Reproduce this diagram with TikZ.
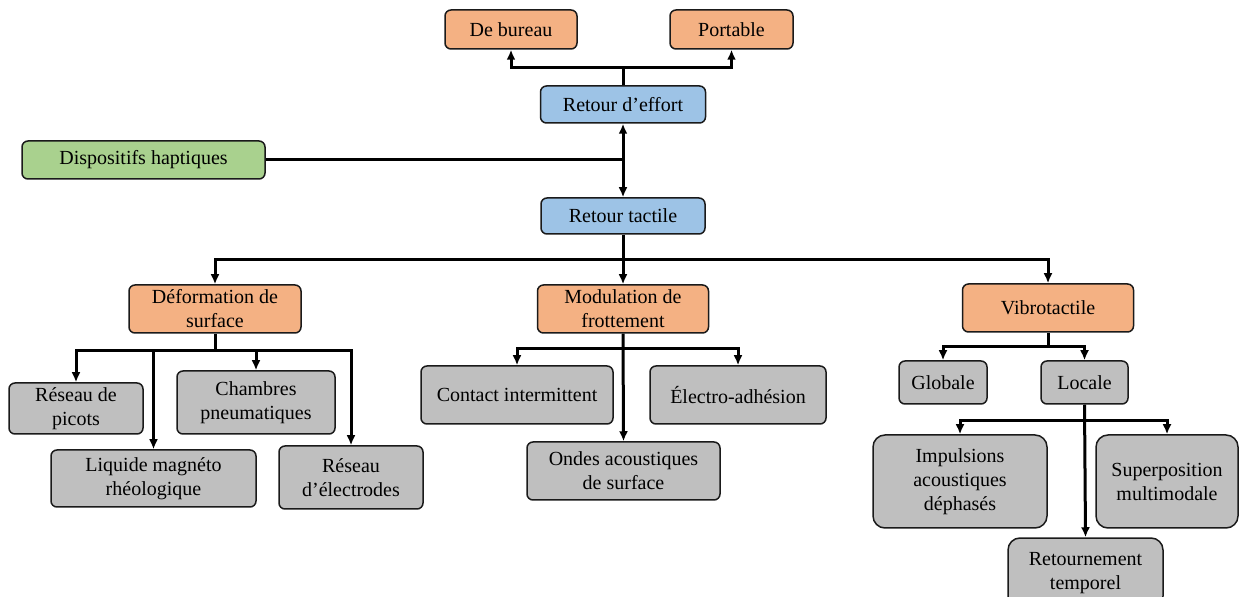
\documentclass[tikz,border=0pt]{standalone}
\usepackage{fontspec}
\setmainfont{Liberation Serif}
\usetikzlibrary{arrows.meta}
\definecolor{corange}{HTML}{F4B183}
\definecolor{cblue}{HTML}{9DC3E6}
\definecolor{cgreen}{HTML}{A9D18E}
\definecolor{cgray}{HTML}{BFBFBF}
\definecolor{cedge}{HTML}{1A1A1A}
\begin{document}
\begin{tikzpicture}[x=0.5pt,y=-0.5pt,
  box/.style={draw=cedge, line width=0.75pt, rounded corners=3pt, align=center,
    inner sep=0pt, font=\fontsize{10}{12}\selectfont},
  obox/.style={box, fill=corange},
  bbox/.style={box, fill=cblue},
  gbox/.style={box, fill=cgreen},
  ybox/.style={box, fill=cgray},
  wire/.style={draw=black, line width=1.5pt},
  arr/.style={wire, -{Latex[length=5pt,width=4.5pt]}},
  darr/.style={wire, {Latex[length=5pt,width=4.5pt]}-{Latex[length=5pt,width=4.5pt]}}
]
\useasboundingbox (0,0) rectangle (1240,597);

% nodes
\node[obox, minimum width=66pt, minimum height=19.5pt] (bur) at (511,29.5) {De bureau};
\node[obox, minimum width=61.5pt, minimum height=19.5pt] (por) at (731.5,29.5) {Portable};
\node[bbox, minimum width=82.5pt, minimum height=18.5pt] (eff) at (623,104.5) {Retour d'effort};
\node[gbox, minimum width=121.5pt, minimum height=19pt] (disp) at (143.5,160) {Dispositifs haptiques};
\node[bbox, minimum width=82pt, minimum height=18pt] (tac) at (623,216) {Retour tactile};

\node[obox, minimum width=86pt, minimum height=24pt] (def) at (215,309) {Déformation de\\surface};
\node[obox, minimum width=85.5pt, minimum height=24pt] (mod) at (623,309) {Modulation de\\frottement};
\node[obox, minimum width=85.5pt, minimum height=24pt] (vib) at (1048,308) {Vibrotactile};

\node[ybox, minimum width=67pt, minimum height=25.5pt] (pic) at (76,408.5) {Réseau de\\picots};
\node[ybox, minimum width=102.5pt, minimum height=28.5pt] (liq) at (153.5,478.5) {Liquide magnéto\\rhéologique};
\node[ybox, minimum width=79pt, minimum height=31.5pt] (cha) at (256,402.5) {Chambres\\pneumatiques};
\node[ybox, minimum width=72pt, minimum height=31.5pt] (ele) at (351,477.5) {Réseau\\d'électrodes};

\node[ybox, minimum width=96pt, minimum height=29pt] (con) at (517,395) {Contact intermittent};
\node[ybox, minimum width=88pt, minimum height=29pt] (elc) at (738,395) {Électro-adhésion};
\node[ybox, minimum width=96.5pt, minimum height=29pt] (ond) at (623.5,471) {Ondes acoustiques\\de surface};

\node[ybox, minimum width=44pt, minimum height=21.5pt] (glo) at (943,382.5) {Globale};
\node[ybox, minimum width=43.5pt, minimum height=21.5pt] (loc) at (1084.5,382.5) {Locale};
\node[ybox, rounded corners=6pt, minimum width=87pt, minimum height=46.5pt] (imp) at (960,481.5) {Impulsions\\acoustiques\\déphasés};
\node[ybox, rounded corners=6pt, minimum width=71pt, minimum height=46.5pt] (sup) at (1167,481.5) {Superposition\\multimodale};
\node[ybox, rounded corners=6pt, minimum width=77.5pt, minimum height=35pt] (ret) at (1085.5,573) {Retournement\\temporel};

% junctions
\coordinate (jtop) at (623,68);
\coordinate (jd) at (623,160);
\coordinate (jt) at (623,260);
\coordinate (jdf) at (215,351);
\coordinate (jm) at (623,349);
\coordinate (jv) at (1048,347);
\coordinate (jl) at (1084.5,421);

% connectors
\draw[wire] (eff.north) -- (jtop);
\draw[arr] (jtop) -| (bur.south);
\draw[arr] (jtop) -| (por.south);

\draw[wire] (disp.east) -- (jd);
\draw[darr] (eff.south) -- (tac.north);

\draw[arr] (tac.south) -- (mod.north);
\draw[arr] (jt) -| (def.north);
\draw[arr] (jt) -| (vib.north);

\draw[wire] (def.south) -- (jdf);
\draw[arr] (jdf) -| (pic.north);
\draw[arr] (jdf) -| (liq.north);
\draw[arr] (jdf) -| (cha.north);
\draw[arr] (jdf) -| (ele.north);

\draw[arr] (mod.south) -- (ond.north);
\draw[arr] (jm) -| (con.north);
\draw[arr] (jm) -| (elc.north);

\draw[wire] (vib.south) -- (jv);
\draw[arr] (jv) -| (glo.north);
\draw[arr] (jv) -| (loc.north);

\draw[arr] (loc.south) -- (ret.north);
\draw[arr] (jl) -| (imp.north);
\draw[arr] (jl) -| (sup.north);
\end{tikzpicture}
\end{document}
